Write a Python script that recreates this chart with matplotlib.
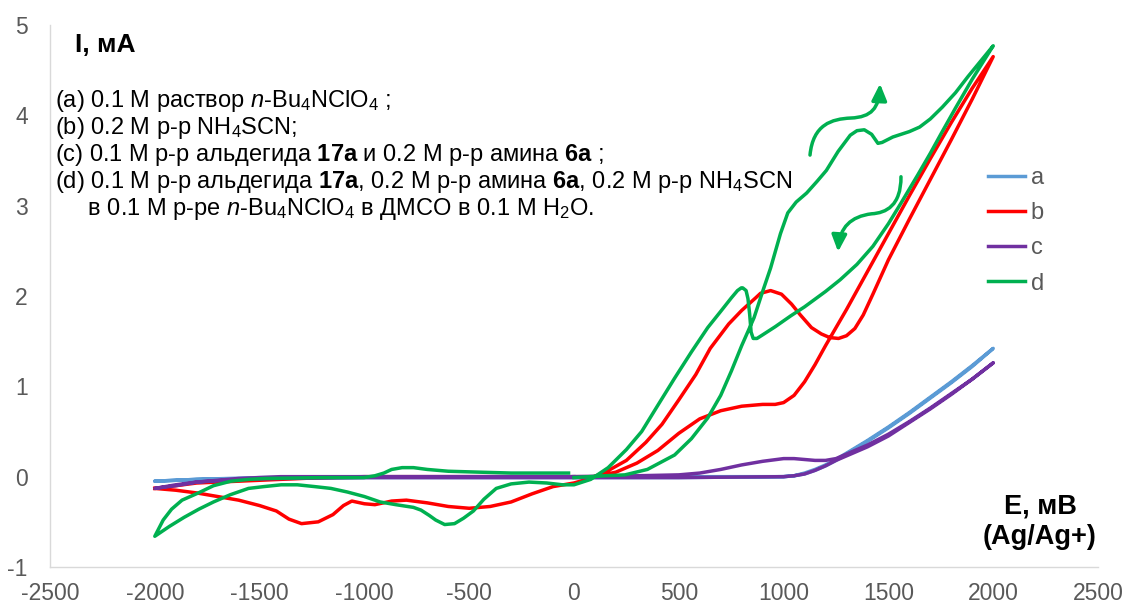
import matplotlib
matplotlib.use('Agg')
import matplotlib.pyplot as plt
from matplotlib.patches import FancyArrowPatch
from matplotlib.path import Path

plt.rcParams['font.family'] = ['Liberation Sans', 'DejaVu Sans']
plt.rcParams['mathtext.fontset'] = 'custom'
plt.rcParams['mathtext.rm'] = 'Liberation Sans'
plt.rcParams['mathtext.it'] = 'Liberation Sans:italic'
plt.rcParams['mathtext.bf'] = 'Liberation Sans:bold'
plt.rcParams['axes.unicode_minus'] = False

# (a) background electrolyte
e_a = [0, 500, 900, 1000, 1050, 1100, 1150, 1200, 1250, 1300, 1400, 1500, 1600, 1700, 1800, 1900, 2000,
       1900, 1800, 1700, 1600, 1500, 1400, 1300, 1250, 1200, 1150, 1100, 1050, 1000, 500, 0,
       -500, -1000, -1500, -1800, -1900, -2000, -1900, -1800, -1500, -1000, -500, 0]
i_a = [0.0, 0.0, 0.0, 0.0, 0.01, 0.03, 0.07, 0.12, 0.18, 0.25, 0.39, 0.54, 0.70, 0.87, 1.04, 1.22, 1.42,
       1.23, 1.05, 0.88, 0.71, 0.55, 0.40, 0.26, 0.19, 0.13, 0.08, 0.04, 0.01, 0.0, -0.01, -0.01,
       -0.01, -0.01, -0.02, -0.03, -0.04, -0.05, -0.04, -0.03, -0.01, 0.0, 0.0, 0.0]

# (b) NH4SCN
e_b = [-2000, -1900, -1800, -1600, -1400, -1200, -1000, -500, 0, 100,
       200, 300, 400, 500, 600, 700, 800, 900, 960, 1000, 1050, 1100, 1150, 1200, 1300, 1400, 1500,
       1600, 1700, 1800, 1900, 2000,
       1900, 1800, 1700, 1600, 1500, 1426, 1380, 1340, 1300, 1262, 1220, 1180, 1133, 1080, 1038, 990,
       938, 890, 867, 800, 738, 650, 581, 500, 420, 343, 250, 150, 60, 0,
       -100, -200, -300, -400, -500, -600, -700, -800, -870, -950, -1000, -1060, -1100, -1150, -1220,
       -1300, -1360, -1420, -1500, -1600, -1700, -1800, -1900, -2000]
i_b = [-0.13, -0.10, -0.07, -0.05, -0.03, -0.01, 0.0, 0.0, 0.0, 0.0,
       0.05, 0.15, 0.29, 0.48, 0.64, 0.73, 0.78, 0.80, 0.80, 0.82, 0.90, 1.05, 1.24, 1.45, 1.85, 2.27, 2.69,
       3.11, 3.52, 3.92, 4.30, 4.65,
       4.18, 3.73, 3.29, 2.85, 2.40, 2.02, 1.79, 1.64, 1.56, 1.53, 1.54, 1.58, 1.65, 1.79, 1.91, 2.02,
       2.06, 2.03, 1.98, 1.84, 1.69, 1.42, 1.13, 0.85, 0.58, 0.38, 0.18, 0.05, -0.03, -0.07,
       -0.11, -0.19, -0.28, -0.33, -0.35, -0.33, -0.29, -0.26, -0.27, -0.31, -0.30, -0.27, -0.32, -0.42, -0.50,
       -0.52, -0.47, -0.38, -0.32, -0.26, -0.22, -0.18, -0.15, -0.13]

# (c) aldehyde 17a + amine 6a
e_c = [0, 300, 500, 600, 700, 800, 900, 1000, 1050, 1100, 1150, 1200, 1250, 1300, 1400, 1500, 1600,
       1700, 1800, 1900, 2000,
       1900, 1800, 1700, 1600, 1500, 1400, 1300, 1250, 1200, 1150, 1100, 1050, 1000, 500, 0,
       -500, -1000, -1400, -1600, -1800, -1900, -2000, -1900, -1800, -1600, -1400, -1000, -500, 0]
i_c = [0.0, 0.01, 0.02, 0.04, 0.08, 0.13, 0.17, 0.20, 0.20, 0.19, 0.18, 0.18, 0.20, 0.25, 0.35, 0.47, 0.61,
       0.76, 0.92, 1.08, 1.26,
       1.08, 0.91, 0.75, 0.60, 0.45, 0.33, 0.23, 0.18, 0.12, 0.07, 0.03, 0.01, 0.0, -0.01, -0.01,
       -0.01, -0.01, -0.02, -0.03, -0.06, -0.09, -0.13, -0.10, -0.06, -0.02, 0.0, 0.0, 0.0, 0.0]

# (d) full mixture
e_d = [0, 150, 243, 350, 480, 560, 638, 700, 751, 800, 859, 900, 938, 985, 1020, 1060, 1110, 1160,
       1204, 1260, 1318, 1350, 1385, 1420, 1450, 1470, 1521, 1600, 1649, 1700, 1757, 1820, 1880,
       1940, 2000,
       1900, 1820, 1757, 1700, 1640, 1558, 1500, 1426, 1350, 1270, 1200, 1100, 1034, 960, 900, 873,
       855, 845, 838, 830, 821, 805, 798, 780, 751, 700, 638, 560, 480, 400, 323, 250, 163, 80, 0,
       -55, -130, -215, -300, -371, -430, -480, -527, -570, -617, -660, -690, -730, -766, -850, -925,
       -1000, -1081, -1160, -1237, -1320, -1397, -1480, -1553, -1640, -1720, -1790, -1860, -1930, -2000,
       -1960, -1920, -1870, -1792, -1720, -1637, -1550, -1475, -1200, -1002, -950, -907, -870, -820,
       -766, -700, -600, -453, -300, -150, -26]
i_d = [-0.01, 0.01, 0.02, 0.08, 0.24, 0.42, 0.65, 0.90, 1.17, 1.45, 1.76, 2.05, 2.31, 2.69, 2.92, 3.04,
       3.14, 3.27, 3.39, 3.60, 3.78, 3.83, 3.84, 3.79, 3.69, 3.70, 3.76, 3.82, 3.87, 3.96, 4.09, 4.25,
       4.43, 4.60, 4.77,
       4.40, 4.08, 3.82, 3.58, 3.34, 3.02, 2.80, 2.55, 2.35, 2.18, 2.05, 1.88, 1.78, 1.66, 1.57, 1.53,
       1.53, 1.60, 1.80, 1.97, 2.06, 2.09, 2.09, 2.06, 1.98, 1.83, 1.65, 1.38, 1.09, 0.79, 0.50, 0.30,
       0.10, -0.03, -0.09,
       -0.09, -0.07, -0.06, -0.08, -0.13, -0.25, -0.38, -0.46, -0.52, -0.53, -0.48, -0.43, -0.37, -0.34,
       -0.31, -0.28, -0.22, -0.17, -0.13, -0.11, -0.09, -0.09, -0.11, -0.13, -0.20, -0.28, -0.36, -0.45,
       -0.55, -0.66,
       -0.48, -0.36, -0.26, -0.18, -0.10, -0.05, -0.03, -0.02, -0.01, -0.01, 0.01, 0.04, 0.08, 0.10,
       0.10, 0.08, 0.06, 0.05, 0.04, 0.04, 0.04]

series = [('a', e_a, i_a, '#5B9BD5'),
          ('b', e_b, i_b, '#FF0000'),
          ('c', e_c, i_c, '#7030A0'),
          ('d', e_d, i_d, '#00B050')]

x_ticks = [-2500, -2000, -1500, -1000, -500, 0, 500, 1000, 1500, 2000, 2500]
y_ticks = [-1, 0, 1, 2, 3, 4, 5]

notes = [
    '(a) 0.1 М раствор $\\mathit{n}$-Bu$_4$NClO$_4$ ;',
    '(b) 0.2 М р-р NH$_4$SCN;',
    '(c) 0.1 М р-р альдегида $\\mathbf{17a}$ и 0.2 М р-р амина $\\mathbf{6a}$ ;',
    '(d) 0.1 М р-р альдегида $\\mathbf{17a}$, 0.2 М р-р амина $\\mathbf{6a}$, 0.2 М р-р NH$_4$SCN',
    '     в 0.1 М р-ре $\\mathit{n}$-Bu$_4$NClO$_4$ в ДМСО в 0.1 М H$_2$O.',
]

W, H = 1125, 605
fig = plt.figure(figsize=(W / 100, H / 100), dpi=100)
ax = fig.add_axes([50 / W, 1 - 567 / H, (1098 - 50) / W, (567 - 25) / H])

for name, e, i, col in series:
    ax.plot(e, i, color=col, lw=2.5, label=name, solid_joinstyle='round')

ax.set_xlim(-2500, 2500)
ax.set_ylim(-1, 5)
ax.set_xticks(x_ticks)
ax.set_yticks(y_ticks)
ax.tick_params(length=0, labelsize=16.5, labelcolor='#595959')
ax.tick_params(axis='y', pad=16)
ax.tick_params(axis='x', pad=11)
for s in ['top', 'right']:
    ax.spines[s].set_visible(False)
for s in ['left', 'bottom']:
    ax.spines[s].set_color('#D9D9D9')
    ax.spines[s].set_linewidth(1.0)

leg = ax.legend(loc='upper left', bbox_to_anchor=(988 / W, 1 - 167 / H),
                bbox_transform=fig.transFigure, frameon=False, fontsize=17,
                handlelength=1.55, handletextpad=0.25, labelspacing=0.56, borderpad=0,
                borderaxespad=0)
for t in leg.get_texts():
    t.set_color('#595959')

# axis titles inside the plot area
fig.text(75 / W, 1 - 45 / H, 'I, мА', fontsize=19, fontweight='bold', va='center', ha='left')
fig.text(1040 / W, 1 - 506 / H, 'E, мВ', fontsize=19.5, fontweight='bold', va='center', ha='center')
fig.text(1040 / W, 1 - 537 / H, '(Ag/Ag+)', fontsize=19.5, fontweight='bold', va='center', ha='center')

for k, line in enumerate(notes):
    fig.text(55 / W, 1 - (101 + 27 * k) / H, line, fontsize=17, va='center', ha='left')

# curved arrows showing scan direction
green = '#00B050'
up = Path([(1126, 3.56), (1140, 3.9), (1230, 3.96), (1320, 3.97),
           (1420, 3.98), (1455, 4.08), (1460, 4.35)],
          [Path.MOVETO] + [Path.CURVE4] * 6)
down = Path([(1560, 3.32), (1560, 3.0), (1490, 2.92), (1420, 2.91),
             (1320, 2.88), (1268, 2.76), (1260, 2.49)],
            [Path.MOVETO] + [Path.CURVE4] * 6)
for p in (up, down):
    ax.add_patch(FancyArrowPatch(path=p, arrowstyle='-|>,head_length=0.55,head_width=0.25',
                                 mutation_scale=18, color=green, lw=2.5))

fig.savefig('out.png', dpi=100)
